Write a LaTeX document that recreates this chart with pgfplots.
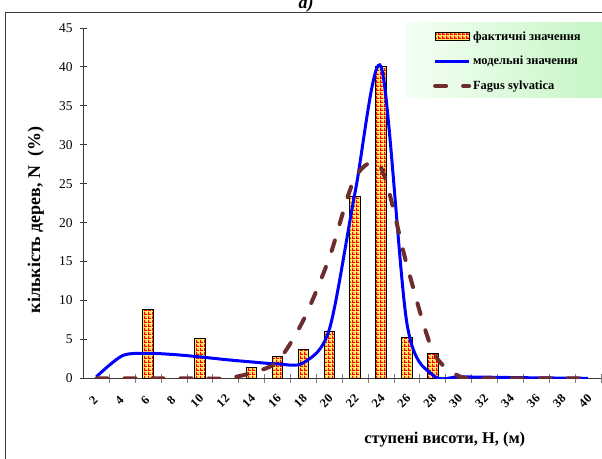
\documentclass[border=0pt]{standalone}
\usepackage{fontspec}
\setmainfont{Liberation Serif}
\usepackage{pgfplots}
\pgfplotsset{compat=1.18}
\usetikzlibrary{patterns}
\pgfdeclarepatternformonly{plaid}{\pgfqpoint{0bp}{0bp}}{\pgfqpoint{3.5bp}{3.5bp}}{\pgfqpoint{3.5bp}{3.5bp}}{%
 \pgfpathrectangle{\pgfqpoint{0bp}{0bp}}{\pgfqpoint{3.5bp}{1.4bp}}%
 \pgfpathrectangle{\pgfqpoint{0bp}{1.4bp}}{\pgfqpoint{1.4bp}{2.1bp}}%
 \pgfusepath{fill}}
\definecolor{fagus}{RGB}{110,44,44}
\definecolor{barfill}{RGB}{255,236,100}
\definecolor{lgL}{RGB}{244,255,244}
\definecolor{lgR}{RGB}{196,245,196}
\definecolor{framec}{RGB}{60,60,60}
\pgfplotsset{
  barlegend/.style={legend image code/.code={\draw[##1] (0bp,-4bp) rectangle (34bp,4bp);}},
  linelegend/.style={legend image code/.code={\draw[##1] (0bp,0bp) -- (34bp,0bp);}},
}
\begin{document}
\begin{tikzpicture}
\useasboundingbox (0,0) rectangle (602bp,-459bp);
\draw[framec, line width=1bp] (5.5bp,-12bp) rectangle (620bp,-480bp);
\node[font=\fontsize{18}{20}\selectfont\bfseries\itshape, anchor=base] at (306bp,-8.5bp) {а)};
\shade[left color=lgL, right color=lgR] (405bp,-22bp) rectangle (610bp,-97bp);
\begin{axis}[
  at={(83.5bp,-378.3bp)}, anchor=south west,
  scale only axis, width=517.6bp, height=350.3bp,
  xmin=1, xmax=41, ymin=0, ymax=45,
  axis lines=left, axis line style={-, framec, line width=0.9bp},
  xtick={2,4,...,40}, minor xtick={3,5,...,41},
  ytick={0,5,...,45},
  tick align=center, major tick length=7bp, minor tick length=9bp,
  major x tick style={draw=none},
  minor x tick style={gray, line width=0.9bp},
  y tick style={framec, line width=0.9bp},
  /pgf/number format/assume math mode=true,
  xticklabel style={font=\fontsize{12.5}{14}\selectfont\bfseries, anchor=center, xshift=-3bp, yshift=-19bp, rotate=45},
  yticklabel style={font=\fontsize{13.5}{15}\selectfont, anchor=east, xshift=-4bp},
  xlabel={ступені висоти, Н, (м)},
  ylabel={кількість дерев, N\enspace(\%)},
  xlabel style={font=\fontsize{16.5}{18}\selectfont\bfseries, at={(axis description cs:0.698,-0.176)}, anchor=center},
  ylabel style={font=\fontsize{18}{20}\selectfont\bfseries, at={(axis description cs:-0.092,0.452)}, anchor=center},
  legend style={at={(axis description cs:0.675,0.996)}, anchor=north west, draw=none, fill=none,
    inner sep=0pt, row sep=10.5bp, font=\fontsize{12.5}{14}\selectfont\bfseries, cells={anchor=west}},
]
\addplot[ybar, bar width=10.5bp, draw=black, line width=1bp, preaction={fill=barfill}, pattern=plaid, pattern color=red, barlegend]
  coordinates {(6,8.9) (10,5.1) (14,1.4) (16,2.8) (18,3.7) (20,6.0) (22,23.3) (24,40.0) (26,5.2) (28,3.2)};
\addplot[blue, line width=3bp, smooth, linelegend]
  coordinates {(2,0.2) (4,2.9) (6,3.2) (8,3.05) (10,2.75) (12,2.4) (14,2.1) (16,1.85) (18,2.0) (20,6.3) (22,24) (24,40) (26,7) (28,0.4) (30,0.2) (32,0.15) (34,0.1) (36,0.06) (38,0.03) (40,0)};
\addplot[fagus, line width=4bp, smooth, line cap=round, dash pattern=on 11bp off 17bp, linelegend]
  coordinates {(2,0) (4,0) (6,0) (8,0) (10,0) (12,0) (14,0.7) (16,2.2) (18,7.5) (20,15.5) (22,25.8) (24,27) (26,14.5) (28,3.5) (30,0.3) (32,0) (34,0) (36,0) (38,0) (40,0)};
\legend{фактичні значення, модельні значення, Fagus sylvatica}
\end{axis}
\end{tikzpicture}
\end{document}
